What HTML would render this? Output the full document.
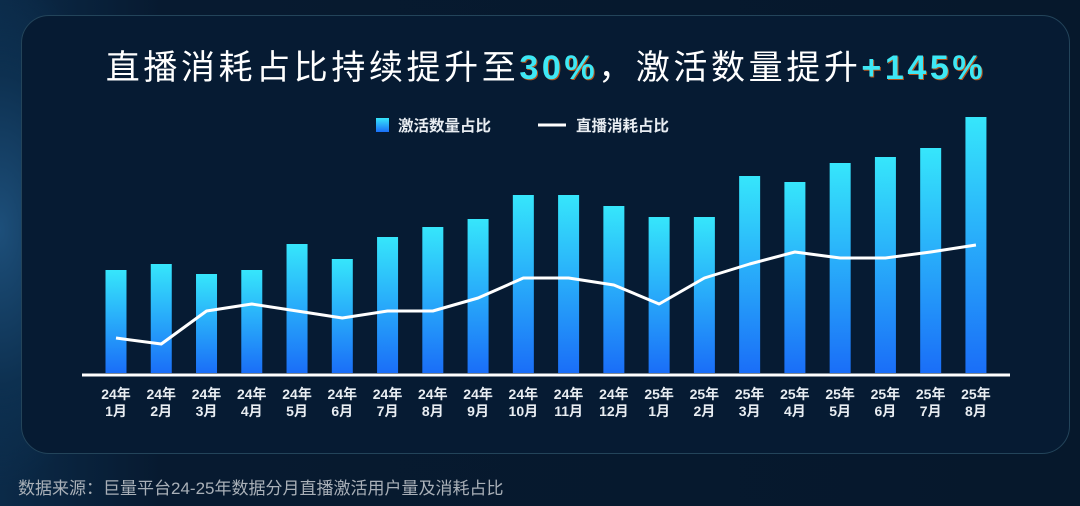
<!DOCTYPE html>
<html><head><meta charset="utf-8">
<style>
html,body{margin:0;padding:0}
body{width:1080px;height:506px;overflow:hidden;position:relative;
background:radial-gradient(ellipse 120px 260px at 0px 230px,#1d4f7a 0%,#0d3050 60%,rgba(6,26,48,0) 100%),linear-gradient(90deg,#0b2a48 0%,#071a30 15%,#06182c 100%);
font-family:"Liberation Sans","Noto Sans CJK SC",sans-serif}
#panel{position:absolute;left:21px;top:15px;width:1049px;height:439px;border-radius:28px;background:#061b33;border:1px solid #23445a;box-sizing:border-box}
#title{position:absolute;left:0;width:1092px;top:40px;text-align:center;font-size:34px;color:#fff;letter-spacing:3.6px;white-space:nowrap}
#title .hl{color:#3ee8f5;text-shadow:1px 1px 0 #b5541a;font-weight:bold}
#footer{position:absolute;left:18px;top:474px;font-size:17px;color:#a9b0b8}
svg{position:absolute;left:0;top:0}
</style></head><body>
<div id="panel"></div>
<div id="title">直播消耗占比持续提升至<span class="hl">30%</span>，激活数量提升<span class="hl">+145%</span></div>
<div id="footer">数据来源：巨量平台24-25年数据分月直播激活用户量及消耗占比</div>
<svg id="chart" width="1080" height="506">
<defs><linearGradient id="bg" x1="0" y1="0" x2="0" y2="1"><stop offset="0" stop-color="#36e6fb"/><stop offset="1" stop-color="#1a6ef8"/></linearGradient></defs>
<rect x="376" y="118" width="13" height="14" fill="url(#bg)"/>
<text x="398" y="131" font-size="15.5" font-weight="bold" fill="#e8edf2">激活数量占比</text>
<line x1="538" y1="125" x2="566" y2="125" stroke="#fff" stroke-width="3"/>
<text x="576" y="131" font-size="15.5" font-weight="bold" fill="#e8edf2">直播消耗占比</text>
<g id="g"></g>
</svg>
<script>
const years=["24","24","24","24","24","24","24","24","24","24","24","24","25","25","25","25","25","25","25","25"];
const months=["1","2","3","4","5","6","7","8","9","10","11","12","1","2","3","4","5","6","7","8"];
const barValues=[103,109,99,103,129,114,136,146,154,178,178,167,156,156,197,191,210,216,225,256];
const lineValues=[35,29,62,69,62,55,62,62,75,95,95,88,69,95,109,121,115,115,121,128];
const NS="http://www.w3.org/2000/svg",g=document.getElementById('g');
const x0=116,step=45.26,base=373;
function xs(i){return x0+i*step}
function ys(v){return base-v}
function mk(t,a){const e=document.createElementNS(NS,t);for(const k in a)e.setAttribute(k,a[k]);g.appendChild(e);return e}
barValues.forEach((v,i)=>{
 const r=mk('rect',{x:xs(i)-10.5,y:ys(v),width:21,height:v,fill:'url(#bg)'});
 
 
});
const ax=mk('line',{x1:82,y1:375,x2:1010,y2:375,stroke:'#fff','stroke-width':3});


const pl=mk('polyline',{points:lineValues.map((v,i)=>xs(i)+','+ys(v)).join(' '),fill:'none',stroke:'#fff','stroke-width':3,'stroke-linejoin':'round'});


years.forEach((y,i)=>{
 const t=mk('text',{x:xs(i),y:399,'text-anchor':'middle','font-size':14,'font-weight':'bold',fill:'#e8edf2'});
 t.textContent=y+'年';
 
 
 const t2=mk('text',{x:xs(i),y:416,'text-anchor':'middle','font-size':14,'font-weight':'bold',fill:'#e8edf2'});
 t2.textContent=months[i]+'月';
 
 
});
</script>
</body></html>
